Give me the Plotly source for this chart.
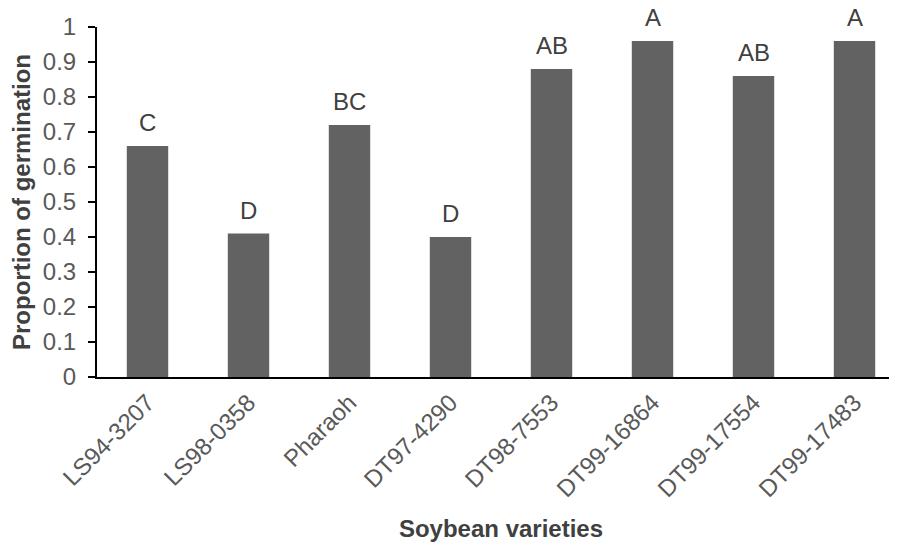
import plotly.graph_objects as go

varieties = ["LS94-3207", "LS98-0358", "Pharaoh", "DT97-4290", "DT98-7553",
             "DT99-16864", "DT99-17554", "DT99-17483"]
germination = [0.66, 0.41, 0.72, 0.40, 0.88, 0.96, 0.86, 0.96]
letters = ["C", "D", "BC", "D", "AB", "A", "AB", "A"]
y_ticks = [0, 0.1, 0.2, 0.3, 0.4, 0.5, 0.6, 0.7, 0.8, 0.9, 1]
y_tick_text = ["0", "0.1", "0.2", "0.3", "0.4", "0.5", "0.6", "0.7", "0.8", "0.9", "1"]

FONT = "Liberation Sans, Arial"

fig = go.Figure()
fig.add_trace(go.Bar(
    x=varieties, y=germination,
    marker=dict(color="#626262", line=dict(width=0)),
    width=0.41,
))

for v, g, l in zip(varieties, germination, letters):
    fig.add_annotation(x=v, y=g, text=l, showarrow=False, yanchor="bottom",
                       yshift=8, font=dict(family=FONT, size=24, color="#404040"))

fig.update_layout(
    width=897, height=546,
    margin=dict(l=89, r=0, t=19, b=177),
    plot_bgcolor="white", paper_bgcolor="white",
    showlegend=False,
    font=dict(family=FONT, size=24, color="#595959"),
    xaxis=dict(
        range=[-0.5, 7.5],
        tickangle=-45,
        showline=True, linecolor="black", linewidth=2,
        ticks="", showgrid=False,
        tickfont=dict(size=24, color="#595959"),
        title=dict(text="<b>Soybean varieties</b>", standoff=19,
                   font=dict(size=24, color="#404040")),
        automargin=False,
    ),
    yaxis=dict(
        range=[0, 1],
        tickvals=y_ticks, ticktext=y_tick_text,
        showline=True, linecolor="black", linewidth=2,
        ticks="outside", ticklen=7, tickcolor="black", tickwidth=2,
        ticklabelstandoff=7,
        showgrid=False, zeroline=False,
        tickfont=dict(size=24, color="#595959"),
        title=dict(text="<b>Proportion of germination</b>", standoff=13,
                   font=dict(size=24, color="#404040")),
        automargin=False,
    ),
)

fig.write_html("out.html")
